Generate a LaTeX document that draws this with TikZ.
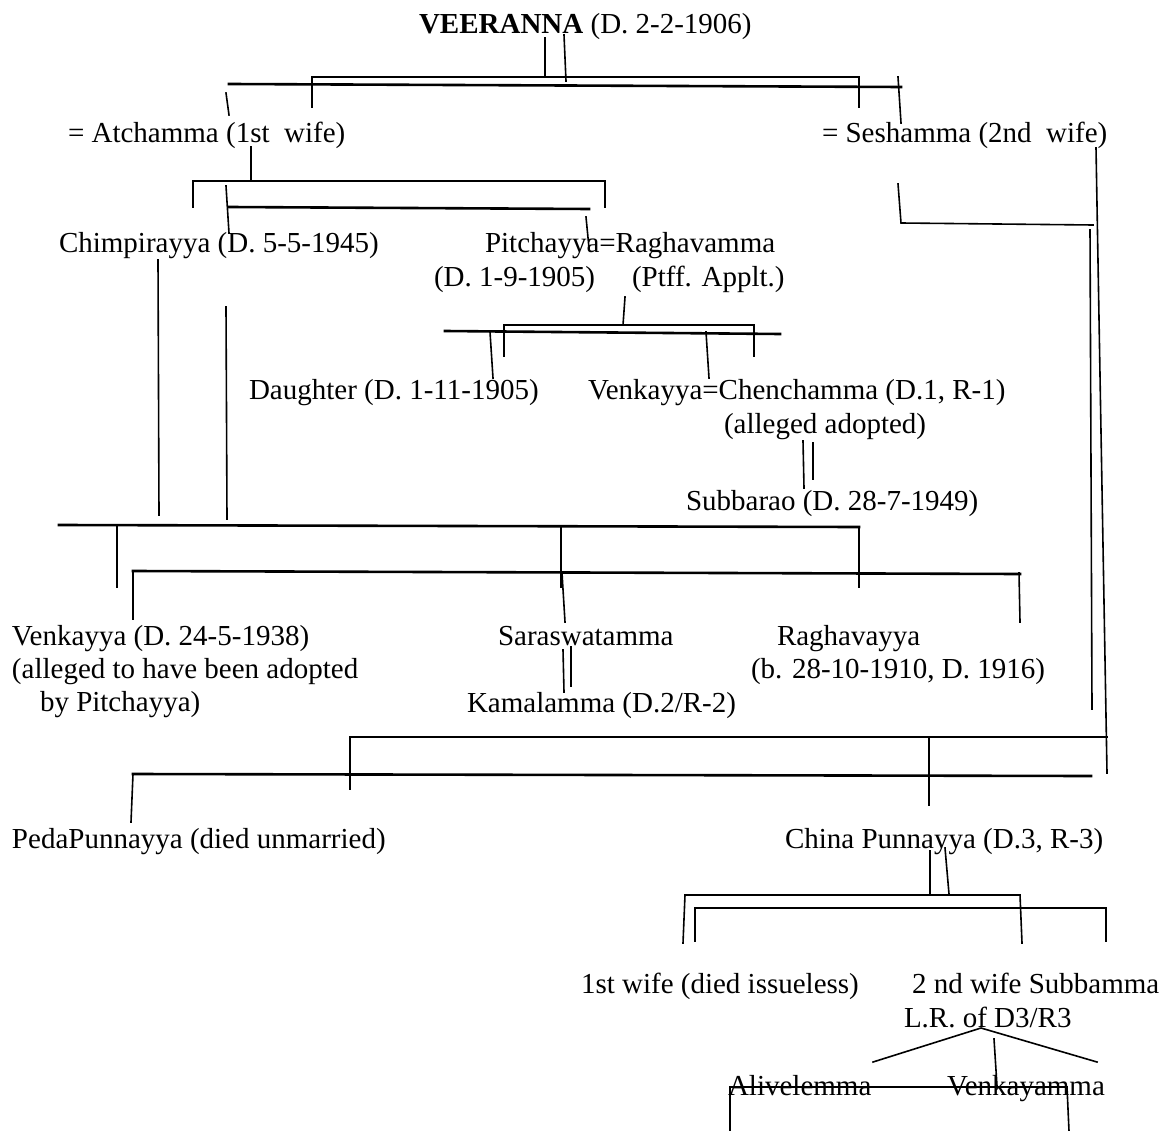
\documentclass[tikz,border=0pt]{standalone}
\usepackage{fontspec}
\setmainfont{Liberation Serif}
\begin{document}
\begin{tikzpicture}[x=1pt,y=-1pt,
  txt/.style={anchor=base west,inner sep=0pt,outer sep=0pt,font=\fontsize{29}{33}\selectfont},
  ln/.style={line width=1.6pt,line cap=rect},
  tk/.style={line width=2.6pt,line cap=rect}]
\useasboundingbox (0,0) rectangle (1166,1131);
\fill[white] (0,0) rectangle (1166,1131);
% texts
\node[txt] (veer) at (419,34) {\textbf{VEERANNA} (D. 2-2-1906)};
\node[txt] (atch) at (68,143) {= Atchamma (1st\ \ wife)};
\node[txt] (sesh) at (822,143) {= Seshamma (2nd\ \ wife)};
\node[txt] (chim) at (59,253) {Chimpirayya (D. 5-5-1945)};
\node[txt] (pitc) at (485,253) {Pitchayya=Raghavamma};
\node[txt] (pitd) at (434,287) {(D. 1-9-1905)\hspace{37pt}(Ptff. Applt.)};
\node[txt] (daug) at (249,399) {Daughter (D. 1-11-1905)};
\node[txt] (venc) at (588,399) {Venkayya=Chenchamma (D.1, R-1)};
\node[txt] (alad) at (724,433) {(alleged adopted)};
\node[txt] (subb) at (686,510) {Subbarao (D. 28-7-1949)};
\node[txt] (venk) at (12,645) {Venkayya (D. 24-5-1938)};
\node[txt] (venk2) at (12,678) {(alleged to have been adopted};
\node[txt] (venk3) at (40,711) {by Pitchayya)};
\node[txt] (sara) at (498,645) {Saraswatamma};
\node[txt] (kama) at (467,712) {Kamalamma (D.2/R-2)};
\node[txt] (ragh) at (777,645) {Raghavayya};
\node[txt] (ragh2) at (751,678) {(b. 28-10-1910, D. 1916)};
\node[txt] (peda) at (12,848) {PedaPunnayya (died unmarried)};
\node[txt] (chin) at (785,848) {China Punnayya (D.3, R-3)};
\node[txt] (wif1) at (581,993) {1st wife (died issueless)};
\node[txt] (wif2) at (912,993) {2 nd wife Subbamma};
\node[txt] (lrof) at (904,1027) {L.R. of D3/R3};
\node[txt] (aliv) at (728,1095) {Alivelemma};
\node[txt] (venm) at (947,1095) {Venkayamma};
% lines - top
\draw[ln] (545,38) -- (545,77);
\draw[ln] (564,35) -- (566,81);
\draw[ln] (312,107) -- (312,77) -- (859,77) -- (859,107);
\draw[tk] (229,84) -- (901,87);
\draw[ln] (226,93) -- (229,115);
\draw[ln] (898,77) -- (901,123);
% Atchamma children
\draw[ln] (251,147) -- (251,181);
\draw[ln] (193,207) -- (193,181) -- (605,181) -- (605,207);
\draw[ln] (226,186) -- (229,233);
\draw[tk] (229,207) -- (589,209);
\draw[ln] (586,217) -- (589,248);
\draw[ln] (158,260) -- (159,515);
\draw[ln] (226,307) -- (227,519);
% Pitchayya children
\draw[ln] (625,297) -- (623,325);
\draw[ln] (504,356) -- (504,325) -- (754,325) -- (754,356);
\draw[tk] (445,331) -- (780,334);
\draw[ln] (490,332) -- (493,378);
\draw[ln] (706,332) -- (709,378);
\draw[ln] (803,441) -- (804,488);
\draw[ln] (813,443) -- (813,479);
% Chimpirayya children
\draw[tk] (59,525) -- (859,527);
\draw[ln] (117,525) -- (117,587);
\draw[ln] (561,526) -- (561,587);
\draw[ln] (859,527) -- (859,587);
\draw[tk] (133,571) -- (1020,574);
\draw[ln] (133,572) -- (133,619);
\draw[ln] (562,573) -- (565,622);
\draw[ln] (1019,573) -- (1020,622);
\draw[ln] (563,650) -- (564,692);
\draw[ln] (571,647) -- (571,686);
% Seshamma side
\draw[ln] (1096,148) -- (1107,773);
\draw[ln] (898,184) -- (901,223) -- (1093,225);
\draw[ln] (1090,230) -- (1092,709);
\draw[tk] (350,737) -- (1107,737);
\draw[ln] (350,737) -- (350,789);
\draw[ln] (929,737) -- (929,805);
\draw[tk] (133,774) -- (1091,776);
\draw[ln] (131,822) -- (133,774);
% China Punnayya
\draw[ln] (930,851) -- (930,893);
\draw[ln] (945,848) -- (949,894);
\draw[ln] (683,943) -- (685,895) -- (1020,895) -- (1022,943);
\draw[ln] (695,941) -- (695,908) -- (1106,908) -- (1106,941);
\draw[ln] (873,1062) -- (981,1028) -- (1097,1062);
\draw[ln] (994,1039) -- (997,1086);
\draw[ln] (730,1131) -- (730,1087) -- (1067,1087) -- (1069,1131);
\end{tikzpicture}
\end{document}
